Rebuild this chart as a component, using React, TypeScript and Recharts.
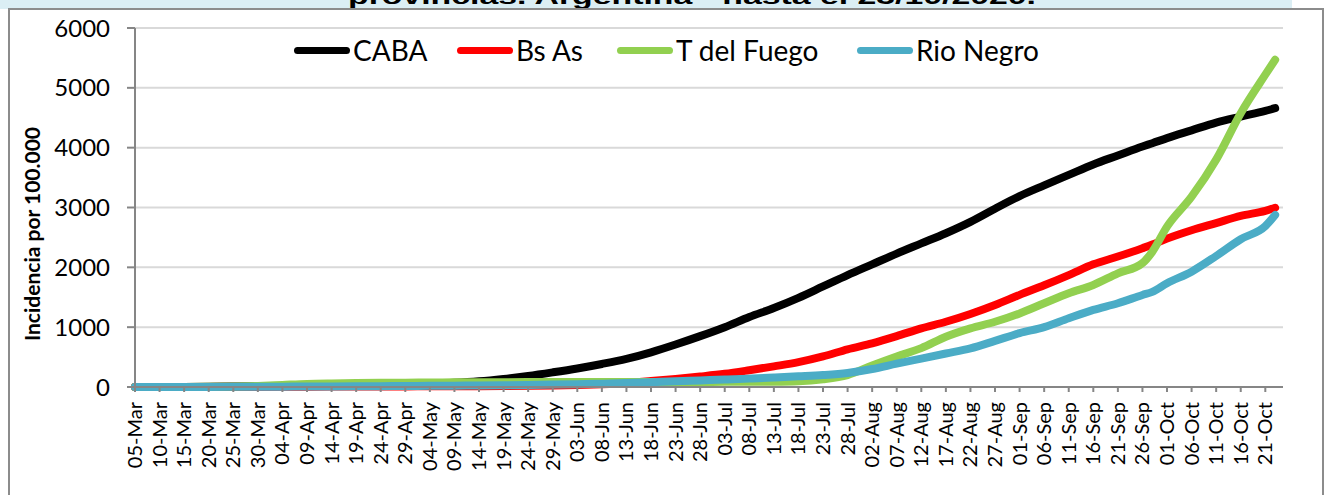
import { LineChart, Line, XAxis, YAxis, CartesianGrid } from "recharts";

// etiquetas del eje X, una cada 5 días desde el 05-Mar
const tickLabels = [
  "05-Mar", "10-Mar", "15-Mar", "20-Mar", "25-Mar", "30-Mar",
  "04-Apr", "09-Apr", "14-Apr", "19-Apr", "24-Apr", "29-Apr",
  "04-May", "09-May", "14-May", "19-May", "24-May", "29-May",
  "03-Jun", "08-Jun", "13-Jun", "18-Jun", "23-Jun", "28-Jun",
  "03-Jul", "08-Jul", "13-Jul", "18-Jul", "23-Jul", "28-Jul",
  "02-Aug", "07-Aug", "12-Aug", "17-Aug", "22-Aug", "27-Aug",
  "01-Sep", "06-Sep", "11-Sep", "16-Sep", "21-Sep", "26-Sep",
  "01-Oct", "06-Oct", "11-Oct", "16-Oct", "21-Oct",
];

// días desde el 05-Mar en que se leyó cada serie
const days = [
  0, 5, 10, 15, 20, 25, 30, 35, 40, 45, 50, 55, 60, 65, 70, 75, 80, 85, 90, 95,
  100, 105, 110, 115, 120, 125, 130, 135, 140, 145, 150, 155, 160, 165, 170, 175,
  180, 185, 190, 195, 200, 205, 207, 210, 215, 220, 225, 230, 232,
];

const caba = [
  0, 1, 2, 4, 7, 11, 16, 22, 28, 34, 40, 47, 56, 70, 95, 135, 185, 245, 310, 385,
  470, 580, 710, 850, 1000, 1170, 1320, 1490, 1680, 1870, 2050, 2230, 2400, 2570, 2760, 2980,
  3190, 3370, 3545, 3720, 3870, 4020, 4075, 4160, 4290, 4420, 4520, 4615, 4660,
];

const bsAs = [
  0, 0, 1, 2, 3, 4, 5, 6, 7, 8, 9, 10, 11, 12, 14, 17, 21, 27, 35, 48,
  68, 100, 135, 175, 220, 280, 345, 415, 510, 630, 730, 850, 980, 1090, 1220, 1370,
  1540, 1700, 1870, 2050, 2180, 2320, 2380, 2480, 2620, 2740, 2860, 2945, 2995,
];

const tDelFuego = [
  0, 0, 1, 3, 8, 18, 35, 52, 60, 65, 69, 73, 76, 78, 80, 81, 82, 82, 82, 83,
  83, 84, 84, 85, 86, 87, 89, 97, 130, 200, 360, 510, 650, 840, 980, 1090,
  1230, 1400, 1567, 1706, 1900, 2070, 2260, 2680, 3180, 3800, 4576, 5220, 5468,
];

const rioNegro = [
  0, 0, 1, 2, 3, 4, 6, 8, 10, 12, 14, 16, 19, 22, 26, 30, 35, 41, 48, 56,
  66, 80, 96, 110, 124, 140, 158, 178, 200, 235, 300, 390, 475, 560, 645, 770,
  900, 1000, 1148, 1288, 1400, 1538, 1590, 1734, 1928, 2190, 2470, 2690, 2876,
];

const yTicks = [0, 1000, 2000, 3000, 4000, 5000, 6000];

const series = [
  { key: "caba", name: "CABA", color: "#000000" },
  { key: "bsas", name: "Bs As", color: "#FF0000" },
  { key: "tdf", name: "T del Fuego", color: "#92D050" },
  { key: "rn", name: "Rio Negro", color: "#4BACC6" },
];

// posición horizontal de cada entrada de la leyenda
const legendLeft = [294, 457, 617, 857];

const data = days.map((d, i) => ({
  day: d,
  caba: caba[i],
  bsas: bsAs[i],
  tdf: tDelFuego[i],
  rn: rioNegro[i],
}));

const tickDays = tickLabels.map((_, i) => i * 5);

const AXIS = "#868686";
const FONT = "Lato, 'Open Sans', sans-serif";

function DateTick({ x, y, payload }: { x?: number; y?: number; payload?: { value: number } }) {
  const label = tickLabels[Math.round((payload?.value ?? 0) / 5)];
  return (
    <text
      x={x}
      y={y}
      transform={`rotate(-90, ${x}, ${y})`}
      textAnchor="end"
      dy="0.35em"
      fontSize={20}
      fontFamily={FONT}
      fill="#000"
    >
      {label}
    </text>
  );
}

export default function App() {
  return (
    <div
      style={{
        position: "absolute",
        left: 0,
        top: 0,
        width: 1327,
        height: 495,
        background: "#fff",
        overflow: "hidden",
        fontFamily: FONT,
      }}
    >
      {/* franja del título, cortada por el recuadro */}
      <div
        style={{
          position: "absolute",
          left: 0,
          top: 0,
          width: 1292,
          height: 9,
          background: "#DBEEF4",
          overflow: "hidden",
        }}
      >
        <svg width={1292} height={9} style={{ display: "block" }}>
          <text
            x={348}
            y={4}
            textLength={688}
            lengthAdjust="spacingAndGlyphs"
            fontFamily="'Liberation Sans', Arial, sans-serif"
            fontWeight="bold"
            fontSize={22}
            fill="#000"
          >
            provincias. Argentina - hasta el 23/10/2020.
          </text>
        </svg>
      </div>

      <div
        style={{
          position: "absolute",
          left: 8,
          top: 8,
          width: 1316,
          height: 520,
          boxSizing: "border-box",
          border: "2px solid #8C8C8C",
          background: "#fff",
        }}
      />

      <div style={{ position: "absolute", left: 0, top: 0 }}>
        <LineChart
          width={1327}
          height={495}
          data={data}
          margin={{ top: 28, right: 44, bottom: 0, left: 0 }}
        >
          <CartesianGrid vertical={false} stroke="#D9D9D9" strokeWidth={2} />
          <XAxis
            dataKey="day"
            type="number"
            domain={[0, 233.6]}
            ticks={tickDays}
            interval={0}
            height={108}
            axisLine={{ stroke: AXIS, strokeWidth: 2 }}
            tickLine={{ stroke: AXIS, strokeWidth: 2 }}
            tickSize={5}
            tickMargin={10}
            tick={<DateTick />}
          />
          <YAxis
            type="number"
            domain={[0, 6000]}
            ticks={yTicks}
            interval={0}
            width={135}
            axisLine={{ stroke: AXIS, strokeWidth: 2 }}
            tickLine={{ stroke: AXIS, strokeWidth: 2 }}
            tickSize={8}
            tickMargin={17}
            tick={{ fill: "#000", fontSize: 24, fontFamily: FONT }}
          />
          {series.map((s) => (
            <Line
              key={s.key}
              dataKey={s.key}
              name={s.name}
              type="monotone"
              stroke={s.color}
              strokeWidth={8}
              strokeLinecap="round"
              strokeLinejoin="round"
              dot={false}
              activeDot={false}
              isAnimationActive={false}
            />
          ))}
        </LineChart>
      </div>

      {/* leyenda */}
      {series.map((s, i) => (
        <div
          key={s.key}
          style={{
            position: "absolute",
            left: legendLeft[i],
            top: 31,
            height: 38,
            display: "flex",
            alignItems: "center",
            whiteSpace: "nowrap",
          }}
        >
          <span
            style={{
              display: "inline-block",
              width: 56,
              height: 7,
              borderRadius: 4,
              background: s.color,
              marginRight: 3,
            }}
          />
          <span style={{ fontSize: 28, color: "#000", lineHeight: "38px" }}>{s.name}</span>
        </div>
      ))}

      {/* título del eje Y */}
      <svg
        width={60}
        height={400}
        style={{ position: "absolute", left: 0, top: 0 }}
      >
        <text
          transform="translate(33, 234) rotate(-90)"
          textAnchor="middle"
          dy="0.35em"
          fontFamily={FONT}
          fontWeight="bold"
          fontSize={21}
          fill="#000"
        >
          Incidencia por 100.000
        </text>
      </svg>
    </div>
  );
}
